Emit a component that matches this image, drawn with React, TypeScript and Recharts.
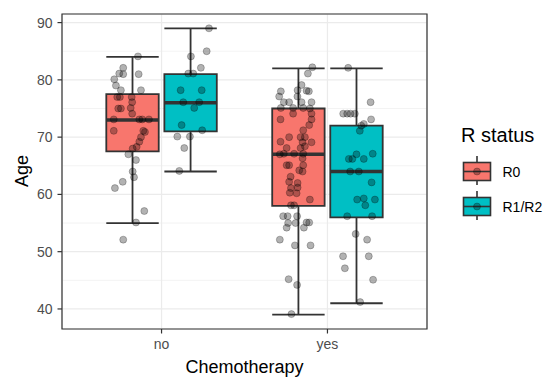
import React from "react";
import {
  ComposedChart,
  Scatter,
  XAxis,
  YAxis,
  CartesianGrid,
  ReferenceArea,
  ReferenceLine,
  Label,
} from "recharts";

// categories and fill groups
const categories = ["no", "yes"];
const groups = ["R0", "R1/R2"];
const groupColors = ["#F8766D", "#00BFC4"];

// box statistics, order: no/R0, no/R1R2, yes/R0, yes/R1R2
const lowerWhisker = [55, 64, 39, 41];
const q1 = [67.5, 71, 58, 56];
const median = [73, 76, 67, 64];
const q3 = [77.5, 81, 75, 72];
const upperWhisker = [84, 89, 82, 82];

const yTicks = [40, 50, 60, 70, 80, 90];
const yMinor = [45, 55, 65, 75, 85];

// jittered points [x position, age]
const noR0Points = [
  [0.858, 84.1], [0.769, 82.1], [0.745, 81.1], [0.769, 81.0], [0.862, 81.0],
  [0.715, 80.1], [0.725, 79.0], [0.755, 78.2], [0.876, 78.2], [0.82, 77.0],
  [0.733, 77.0], [0.749, 77.0], [0.823, 76.1], [0.814, 75.1], [0.739, 75.0],
  [0.755, 75.0], [0.823, 74.1], [0.712, 73.1], [0.866, 73.1], [0.884, 73.1],
  [0.924, 73.1], [0.712, 71.1], [0.89, 71.1], [0.9, 70.9], [0.876, 70.0],
  [0.866, 69.2], [0.85, 68.3], [0.826, 68.0], [0.8, 67.0], [0.846, 66.0],
  [0.826, 64.0], [0.834, 63.0], [0.766, 62.2], [0.719, 61.1], [0.896, 57.1],
  [0.846, 55.1], [0.769, 52.1],
];

const noR1Points = [
  [1.286, 89.0], [1.272, 85.0], [1.177, 84.1], [1.237, 82.1], [1.161, 81.1],
  [1.191, 81.1], [1.115, 78.2], [1.242, 78.2], [1.131, 76.1], [1.227, 76.1],
  [1.197, 75.1], [1.121, 72.1], [1.245, 71.2], [1.095, 70.1], [1.171, 70.1],
  [1.137, 68.1], [1.107, 64.1],
];

const yesR0Points = [
  [1.909, 82.2], [1.882, 81.1], [1.844, 79.1], [1.82, 78.2], [1.719, 78.0],
  [1.874, 78.1], [1.888, 78.0], [1.709, 77.1], [1.819, 77.1], [1.737, 76.1],
  [1.769, 76.1], [1.844, 76.1], [1.904, 76.1], [1.719, 75.1], [1.793, 75.1],
  [1.854, 75.1], [1.894, 75.0], [1.793, 74.1], [1.904, 74.1], [1.717, 73.1],
  [1.904, 73.1], [1.89, 72.1], [1.854, 71.2], [1.769, 70.0], [1.838, 70.0],
  [1.864, 70.0], [1.717, 69.2], [1.85, 69.1], [1.904, 69.1], [1.754, 68.1],
  [1.838, 68.1], [1.864, 68.4], [1.737, 67.1], [1.799, 67.1], [1.854, 67.1],
  [1.713, 67.0], [1.85, 66.3], [1.754, 65.1], [1.769, 65.1], [1.854, 65.1],
  [1.83, 64.2], [1.85, 64.0], [1.778, 63.1], [1.769, 62.2], [1.82, 62.0],
  [1.78, 61.1], [1.82, 61.2], [1.773, 60.3], [1.814, 60.2], [1.894, 59.1],
  [1.78, 58.1], [1.799, 58.1], [1.733, 56.2], [1.76, 56.2], [1.817, 56.2],
  [1.763, 55.0], [1.808, 55.0], [1.874, 55.1], [1.89, 55.1], [1.754, 54.2],
  [1.858, 54.2], [1.713, 52.1], [1.804, 51.1], [1.898, 51.1], [1.766, 45.2],
  [1.817, 44.2], [1.783, 39.1],
];

const yesR1Points = [
  [2.125, 82.1], [2.26, 76.1], [2.095, 74.1], [2.119, 74.1], [2.139, 74.1],
  [2.165, 74.1], [2.263, 73.1], [2.219, 72.3], [2.204, 72.0], [2.195, 71.1],
  [2.175, 67.0], [2.273, 67.1], [2.129, 66.2], [2.15, 66.2], [2.219, 66.2],
  [2.137, 64.0], [2.189, 64.0], [2.266, 62.1], [2.179, 59.1], [2.219, 59.3],
  [2.286, 59.1], [2.228, 58.1], [2.119, 56.2], [2.269, 56.2], [2.17, 53.1],
  [2.239, 52.1], [2.094, 49.2], [2.249, 49.2], [2.105, 47.1], [2.275, 45.1],
  [2.197, 41.2],
];

const allPoints = [noR0Points, noR1Points, yesR0Points, yesR1Points];

const DODGE = 0.175;
const HALF = 0.158;
const LINE = "#333333";
const FONT = "'Liberation Sans', Arial, sans-serif";

const boxes = lowerWhisker.map((lw, i) => {
  const cat = Math.floor(i / 2);
  const g = i % 2;
  const c = cat + 1 + (g === 0 ? -DODGE : DODGE);
  return { c, lw, q1: q1[i], med: median[i], q3: q3[i], uw: upperWhisker[i], color: groupColors[g] };
});

const Dot = (props: any) => (
  <circle
    cx={props.cx}
    cy={props.cy}
    r={3.5}
    fill="#000"
    fillOpacity={0.3}
    stroke="#000"
    strokeOpacity={0.3}
    strokeWidth={0.8}
  />
);

export default function App() {
  return (
    <div style={{ position: "relative", width: 555, height: 377, fontFamily: FONT }}>
      <style>{"body{margin:0;background:#fff}"}</style>
      <ComposedChart width={555} height={377} margin={{ top: 14, right: 128, bottom: 0, left: 0 }}>
        <CartesianGrid stroke="#EBEBEB" strokeWidth={0.6} vertical={false} horizontalValues={yMinor} />
        <CartesianGrid stroke="#EBEBEB" strokeWidth={1.2} />
        <XAxis
          type="number"
          dataKey="x"
          domain={[0.4, 2.6]}
          ticks={[1, 2]}
          allowDataOverflow
          tickFormatter={(v: number) => categories[v - 1]}
          axisLine={false}
          tickLine={{ stroke: LINE, strokeWidth: 1.2 }}
          tickSize={4.5}
          tickMargin={6}
          tick={{ fill: "#4D4D4D", fontSize: 14, fontFamily: FONT }}
          height={48}
        >
          <Label
            content={() => (
              <text x={244.5} y={373} textAnchor="middle" fontSize={18} fill="#000" fontFamily={FONT}>
                Chemotherapy
              </text>
            )}
          />
        </XAxis>
        <YAxis
          type="number"
          dataKey="y"
          domain={[36.5, 91.5]}
          ticks={yTicks}
          allowDataOverflow
          axisLine={false}
          tickLine={{ stroke: LINE, strokeWidth: 1.2 }}
          tickSize={4.5}
          tickMargin={5}
          tick={{ fill: "#4D4D4D", fontSize: 14, fontFamily: FONT }}
          width={62}
        >
          <Label
            content={() => (
              <text
                x={28}
                y={171}
                transform="rotate(-90 28 171)"
                textAnchor="middle"
                fontSize={18}
                fill="#000"
                fontFamily={FONT}
              >
                Age
              </text>
            )}
          />
        </YAxis>

        {/* whiskers + error bar caps */}
        {boxes.map((b, i) => (
          <ReferenceLine key={"wu" + i} segment={[{ x: b.c, y: b.q3 }, { x: b.c, y: b.uw }]} stroke={LINE} strokeWidth={1.8} />
        ))}
        {boxes.map((b, i) => (
          <ReferenceLine key={"wl" + i} segment={[{ x: b.c, y: b.q1 }, { x: b.c, y: b.lw }]} stroke={LINE} strokeWidth={1.8} />
        ))}
        {boxes.map((b, i) => (
          <ReferenceLine key={"cu" + i} segment={[{ x: b.c - HALF, y: b.uw }, { x: b.c + HALF, y: b.uw }]} stroke={LINE} strokeWidth={1.8} />
        ))}
        {boxes.map((b, i) => (
          <ReferenceLine key={"cl" + i} segment={[{ x: b.c - HALF, y: b.lw }, { x: b.c + HALF, y: b.lw }]} stroke={LINE} strokeWidth={1.8} />
        ))}
        {/* boxes */}
        {boxes.map((b, i) => (
          <ReferenceArea
            key={"b" + i}
            x1={b.c - HALF}
            x2={b.c + HALF}
            y1={b.q1}
            y2={b.q3}
            fill={b.color}
            fillOpacity={1}
            stroke={LINE}
            strokeWidth={1.8}
          />
        ))}
        {boxes.map((b, i) => (
          <ReferenceLine key={"md" + i} segment={[{ x: b.c - HALF, y: b.med }, { x: b.c + HALF, y: b.med }]} stroke={LINE} strokeWidth={3.4} />
        ))}

        {allPoints.map((pts, i) => (
          <Scatter
            key={"s" + i}
            data={pts.map(([x, y]) => ({ x, y }))}
            shape={Dot}
            isAnimationActive={false}
          />
        ))}

        <ReferenceArea x1={0.4} x2={2.6} y1={36.5} y2={91.5} fill="none" stroke={LINE} strokeWidth={1.2} />
      </ComposedChart>

      <svg width={555} height={377} style={{ position: "absolute", left: 0, top: 0, pointerEvents: "none" }}>
        <text x={461} y={141.5} fontSize={20} fill="#000" fontFamily={FONT}>
          R status
        </text>
        {groups.map((g, i) => {
          const top = i === 0 ? 156 : 191;
          const cx = 477;
          return (
            <g key={g}>
              <line x1={cx} x2={cx} y1={top} y2={top + 29} stroke={LINE} strokeWidth={1.6} />
              <rect x={463.5} y={top + 6.5} width={27} height={18} fill={groupColors[i]} stroke={LINE} strokeWidth={1.6} />
              <line x1={463.5} x2={490.5} y1={top + 15.5} y2={top + 15.5} stroke={LINE} strokeWidth={1.6} />
              <circle cx={cx} cy={top + 15.5} r={3.5} fill="#000" fillOpacity={0.3} stroke="#000" strokeOpacity={0.3} strokeWidth={0.8} />
              <text x={502.5} y={top + 20.5} fontSize={14} fill="#000" fontFamily={FONT}>
                {g}
              </text>
            </g>
          );
        })}
      </svg>
    </div>
  );
}
